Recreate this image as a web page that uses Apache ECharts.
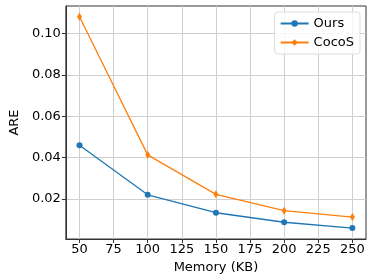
<!DOCTYPE html>
<html><head><meta charset="utf-8">
<script src="https://cdn.jsdelivr.net/npm/echarts@6/dist/echarts.min.js"></script>
<style>html,body{margin:0;padding:0;background:#fff}#c{width:374px;height:280px}</style>
</head><body><div id="c"></div>
<script>
const memory = [50, 100, 150, 200, 250];
const ours = [0.046, 0.0221, 0.0134, 0.0088, 0.0060];
const cocos = [0.1082, 0.0414, 0.0223, 0.0144, 0.0113];
const xTicks = [50, 75, 100, 125, 150, 175, 200, 225, 250];
const yTicks = [0.02, 0.04, 0.06, 0.08, 0.10];

const font = 'DejaVu Sans';
const chart = echarts.init(document.getElementById('c'), null, {renderer: 'canvas'});
chart.setOption({
  animation: false,
  grid: {left: 56, right: 8, top: 6, bottom: 41, show: true, borderColor: '#333', borderWidth: 1, containLabel: false},
  legend: {
    right: 14, top: 12, orient: 'vertical', itemWidth: 28, itemHeight: 8, itemGap: 6,
    backgroundColor: 'rgba(255,255,255,0.8)', borderColor: '#ddd', borderWidth: 1, borderRadius: 3,
    padding: [5, 6, 5, 5],
    textStyle: {fontFamily: font, fontSize: 13, color: '#000'},
    data: ['Ours', 'CocoS']
  },
  xAxis: {
    type: 'value', min: 40, max: 260,
    name: 'Memory (KB)', nameLocation: 'middle', nameGap: 22,
    nameTextStyle: {fontFamily: font, fontSize: 13, color: '#000'},
    axisLine: {show: true, lineStyle: {color: '#333', width: 1}},
    axisTick: {show: true, inside: false, length: 4, lineStyle: {color: '#333'}, customValues: xTicks},
    axisLabel: {fontFamily: font, fontSize: 13, color: '#000', margin: 4, customValues: xTicks},
    splitLine: {show: true, lineStyle: {color: '#cfcfcf', width: 1}}
  },
  yAxis: {
    type: 'value', min: 0.0007, max: 0.1134,
    name: 'ARE', nameLocation: 'middle', nameGap: 42, nameRotate: 90,
    nameTextStyle: {fontFamily: font, fontSize: 13, color: '#000'},
    axisLine: {show: true, lineStyle: {color: '#333', width: 1}},
    axisTick: {show: true, inside: false, length: 4, lineStyle: {color: '#333'}, customValues: yTicks},
    axisLabel: {fontFamily: font, fontSize: 13, color: '#000', margin: 5, customValues: yTicks,
      formatter: v => v.toFixed(2)},
    splitLine: {show: true, lineStyle: {color: '#cfcfcf', width: 1}}
  },
  series: [
    {name: 'Ours', type: 'line', data: memory.map((m, i) => [m, ours[i]]),
      symbol: 'circle', symbolSize: 6, color: '#1f77b4',
      lineStyle: {width: 1.3}, itemStyle: {color: '#1f77b4'}},
    {name: 'CocoS', type: 'line', data: memory.map((m, i) => [m, cocos[i]]),
      symbol: 'diamond', symbolSize: [5, 8], color: '#ff7f0e',
      lineStyle: {width: 1.3}, itemStyle: {color: '#ff7f0e'}}
  ]
});
</script></body></html>
